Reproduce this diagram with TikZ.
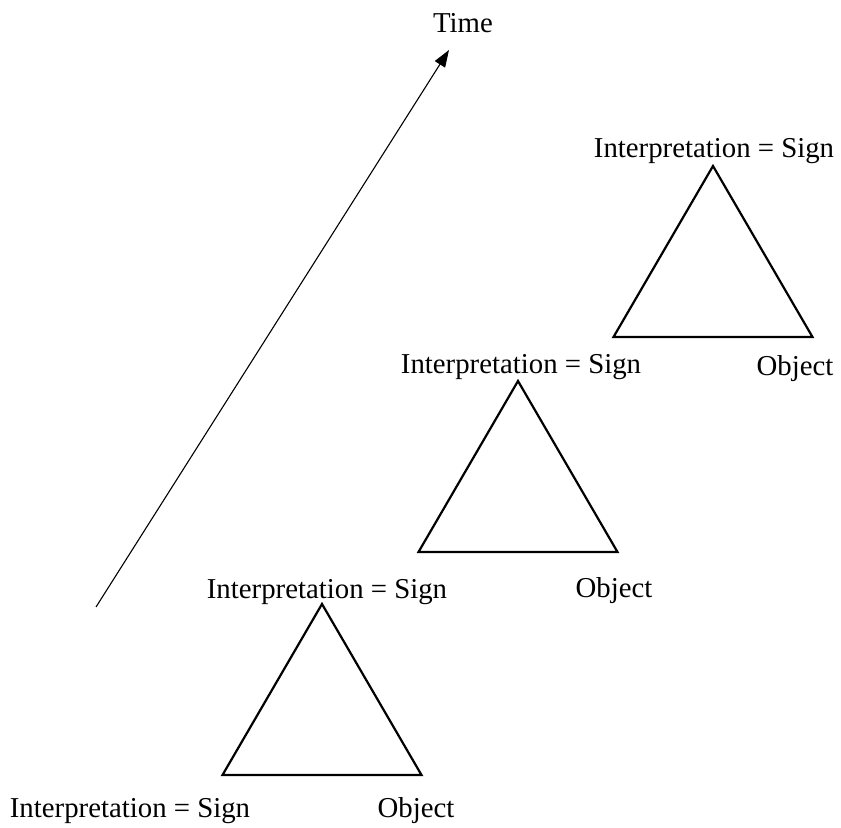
\documentclass[tikz,border=0pt]{standalone}
\usepackage{fontspec}
\setmainfont{Liberation Serif}
\usetikzlibrary{arrows.meta}
\begin{document}
\begin{tikzpicture}[x=0.5pt,y=-0.5pt,font=\fontsize{14.4}{17}\selectfont,
    tri/.style={draw=black,line width=1.1pt,line join=miter},
    lbl/.style={inner sep=0pt,anchor=center}]
    \useasboundingbox (0,0) rectangle (841,828);
    \pgfmathsetmacro{\triw}{199} %底邊長
    \pgfmathsetmacro{\trih}{171} %高
    %% 三個三角形, 以頂點位置定位
    \foreach \n/\x/\y in {1/322/604, 2/518/381, 3/713/166}
    {
        \coordinate (top\n) at (\x,\y);
        \coordinate (left\n) at (\x-0.5*\triw,\y+\trih);
        \coordinate (right\n) at (\x+0.5*\triw,\y+\trih);
        \draw[tri] (top\n) -- (left\n) -- (right\n) -- cycle;
    }
    %% 標籤
    \foreach \n/\ix/\iy/\ox/\oy in
    {1/327/592/416/811,
        2/521/367/614/591,
        3/714/151/795/369}
    {
        \node[lbl] (interp\n) at (\ix,\iy) {Interpretation = Sign};
        \node[lbl] (obj\n) at (\ox,\oy) {Object};
    };
    \node[lbl] (interp0) at (130,811) {Interpretation = Sign};
    %% 時間軸
    \node[lbl] (time) at (463,23) {Time};
    \coordinate (Tstart) at (96,607);
    \coordinate (Tend) at (449,50);
    \draw[line width=0.55pt,-{Triangle[length=8.5pt,width=6pt]}] (Tstart) -- (Tend);
\end{tikzpicture}
\end{document}
